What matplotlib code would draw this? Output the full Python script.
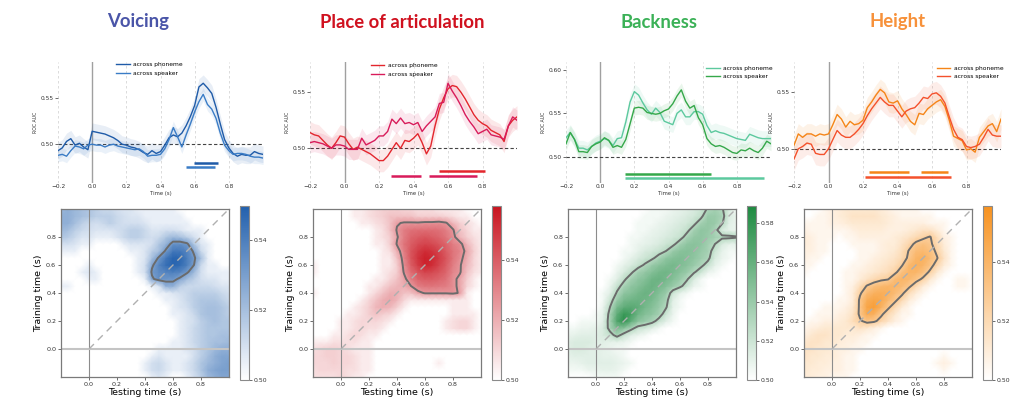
import numpy as np
import matplotlib
matplotlib.use('Agg')
import matplotlib.pyplot as plt
from matplotlib.colors import LinearSegmentedColormap

# ---------------- data ----------------
titles = ["Voicing", "Place of articulation", "Backness", "Height"]
title_colors = ["#4a55a8", "#d0111f", "#3bb157", "#f7913a"]

time = np.round(np.arange(49) * 0.025 - 0.2, 3)

voicing_phoneme = [0.493, 0.496, 0.503, 0.506, 0.499, 0.501, 0.497, 0.494, 0.514, 0.513,
                   0.512, 0.511, 0.509, 0.507, 0.504, 0.500, 0.499, 0.497, 0.496, 0.494,
                   0.491, 0.489, 0.493, 0.490, 0.492, 0.499, 0.507, 0.510, 0.508, 0.512,
                   0.520, 0.530, 0.542, 0.562, 0.566, 0.561, 0.555, 0.540, 0.522, 0.505,
                   0.496, 0.490, 0.487, 0.489, 0.488, 0.488, 0.492, 0.490, 0.489]
voicing_speaker = [0.488, 0.489, 0.487, 0.493, 0.498, 0.497, 0.495, 0.499, 0.500, 0.499,
                   0.499, 0.497, 0.499, 0.500, 0.498, 0.497, 0.496, 0.495, 0.494, 0.495,
                   0.492, 0.487, 0.488, 0.488, 0.489, 0.495, 0.505, 0.518, 0.508, 0.497,
                   0.510, 0.522, 0.535, 0.546, 0.554, 0.543, 0.538, 0.528, 0.512, 0.499,
                   0.493, 0.489, 0.490, 0.490, 0.489, 0.487, 0.486, 0.486, 0.485]
place_phoneme = [0.514, 0.512, 0.511, 0.507, 0.503, 0.500, 0.505, 0.511, 0.510, 0.504,
                 0.499, 0.501, 0.499, 0.497, 0.495, 0.492, 0.489, 0.489, 0.493, 0.499,
                 0.505, 0.500, 0.507, 0.506, 0.509, 0.513, 0.505, 0.495, 0.502, 0.520,
                 0.535, 0.545, 0.553, 0.556, 0.555, 0.550, 0.544, 0.537, 0.530, 0.525,
                 0.522, 0.520, 0.516, 0.514, 0.512, 0.506, 0.520, 0.525, 0.528]
place_speaker = [0.505, 0.506, 0.505, 0.504, 0.502, 0.500, 0.503, 0.503, 0.502, 0.499,
                 0.499, 0.499, 0.509, 0.503, 0.505, 0.507, 0.511, 0.511, 0.515, 0.526,
                 0.522, 0.527, 0.522, 0.523, 0.521, 0.523, 0.515, 0.520, 0.524, 0.528,
                 0.540, 0.541, 0.558, 0.551, 0.545, 0.538, 0.530, 0.524, 0.519, 0.513,
                 0.515, 0.517, 0.512, 0.511, 0.510, 0.508, 0.520, 0.528, 0.525]
backness_phoneme = [0.522, 0.528, 0.520, 0.510, 0.510, 0.508, 0.512, 0.516, 0.518, 0.521,
                    0.519, 0.513, 0.521, 0.522, 0.540, 0.563, 0.575, 0.571, 0.562, 0.554,
                    0.549, 0.556, 0.551, 0.541, 0.539, 0.537, 0.550, 0.554, 0.546, 0.546,
                    0.552, 0.552, 0.549, 0.536, 0.528, 0.530, 0.528, 0.527, 0.525, 0.523,
                    0.521, 0.520, 0.519, 0.526, 0.524, 0.522, 0.521, 0.521, 0.521]
backness_speaker = [0.515, 0.528, 0.520, 0.506, 0.506, 0.505, 0.512, 0.515, 0.517, 0.522,
                    0.519, 0.511, 0.513, 0.511, 0.520, 0.538, 0.556, 0.557, 0.556, 0.551,
                    0.550, 0.549, 0.550, 0.553, 0.555, 0.561, 0.570, 0.577, 0.564, 0.556,
                    0.559, 0.545, 0.537, 0.521, 0.515, 0.512, 0.513, 0.511, 0.508, 0.505,
                    0.504, 0.508, 0.507, 0.510, 0.507, 0.505, 0.510, 0.518, 0.515]
height_phoneme = [0.503, 0.513, 0.510, 0.513, 0.513, 0.511, 0.513, 0.512, 0.513, 0.521,
                  0.530, 0.526, 0.519, 0.524, 0.521, 0.522, 0.525, 0.536, 0.541, 0.547,
                  0.552, 0.549, 0.541, 0.540, 0.542, 0.535, 0.530, 0.524, 0.521, 0.531,
                  0.530, 0.535, 0.538, 0.541, 0.543, 0.537, 0.525, 0.511, 0.509, 0.507,
                  0.499, 0.500, 0.497, 0.510, 0.515, 0.520, 0.522, 0.515, 0.526]
height_speaker = [0.491, 0.500, 0.502, 0.505, 0.504, 0.496, 0.495, 0.495, 0.500, 0.508,
                  0.516, 0.512, 0.510, 0.510, 0.513, 0.517, 0.522, 0.529, 0.535, 0.540,
                  0.545, 0.541, 0.538, 0.538, 0.533, 0.528, 0.533, 0.535, 0.536, 0.540,
                  0.545, 0.544, 0.548, 0.549, 0.546, 0.540, 0.528, 0.517, 0.510, 0.508,
                  0.502, 0.501, 0.502, 0.504, 0.510, 0.517, 0.512, 0.511, 0.511]

# half-width of the shaded confidence band
sem_phoneme = [0.009, 0.010, 0.009, 0.009]
sem_speaker = [0.007, 0.009, 0.008, 0.010]

# significant clusters: (y level, start, end)
clusters_phoneme = [[(0.4798, 0.594, 0.735)],
                    [(0.4800, 0.549, 0.812)],
                    [(0.4758, 0.148, 0.957)],
                    [(0.4797, 0.234, 0.467), (0.4797, 0.534, 0.690)]]
clusters_speaker = [[(0.4754, 0.551, 0.717)],
                    [(0.4754, 0.269, 0.444), (0.4754, 0.491, 0.771)],
                    [(0.4800, 0.148, 0.651)],
                    [(0.4750, 0.210, 0.708)]]

# generalization matrices: AUC above 0.5 in thousandths
# rows = training time (-0.2 .. 1.0 step 0.05), cols = testing time (same)
gen_times = np.round(np.arange(25) * 0.05 - 0.2, 3)
gen_voicing = [
    [0, 0, 0, 0, 0, 0, 0, 0, 0, 0, 0, 0, 0, 5, 8, 5, 0, 0, 5, 10, 15, 22, 25, 28, 28],
    [0, 0, 0, 0, 0, 0, 0, 0, 0, 0, 0, 0, 5, 10, 12, 8, 5, 5, 8, 12, 18, 25, 28, 30, 30],
    [0, 0, 0, 0, 0, 0, 0, 0, 0, 0, 0, 0, 5, 10, 12, 8, 5, 5, 8, 12, 18, 22, 25, 28, 30],
    [0, 0, 0, 0, 0, 0, 0, 0, 0, 0, 0, 0, 0, 5, 8, 5, 5, 5, 5, 10, 15, 20, 25, 28, 28],
    [0, 0, 0, 0, 0, 0, 0, 0, 0, 0, 0, 0, 0, 0, 5, 5, 5, 5, 8, 10, 15, 18, 22, 25, 25],
    [0, 0, 0, 0, 0, 0, 0, 0, 0, 0, 0, 0, 0, 0, 0, 0, 5, 5, 8, 12, 15, 18, 20, 20, 22],
    [0, 0, 0, 0, 0, 0, 0, 0, 0, 0, 0, 0, 0, 0, 0, 0, 0, 5, 8, 12, 15, 18, 18, 20, 20],
    [0, 0, 0, 0, 0, 0, 0, 0, 0, 0, 0, 0, 0, 0, 0, 0, 0, 5, 8, 12, 15, 18, 18, 18, 18],
    [0, 0, 0, 0, 0, 0, 0, 0, 0, 0, 0, 0, 0, 0, 0, 0, 0, 5, 8, 10, 15, 18, 20, 18, 18],
    [0, 0, 0, 0, 0, 0, 0, 0, 0, 0, 0, 0, 0, 0, 0, 0, 5, 5, 8, 12, 18, 20, 20, 18, 15],
    [0, 0, 0, 0, 0, 0, 0, 0, 0, 0, 0, 0, 0, 0, 0, 0, 5, 8, 10, 15, 18, 20, 20, 18, 15],
    [0, 0, 0, 0, 0, 0, 0, 0, 0, 0, 0, 0, 0, 0, 0, 5, 5, 8, 12, 15, 18, 18, 18, 15, 12],
    [0, 0, 0, 0, 0, 0, 0, 0, 0, 0, 0, 0, 0, 0, 5, 5, 8, 10, 12, 15, 15, 15, 15, 12, 10],
    [5, 5, 0, 0, 0, 0, 0, 0, 0, 0, 0, 0, 0, 5, 8, 25, 25, 15, 12, 12, 12, 12, 10, 8, 8],
    [0, 0, 0, 0, 5, 5, 0, 0, 0, 0, 0, 0, 5, 28, 35, 33, 33, 28, 20, 15, 10, 8, 8, 5, 5],
    [0, 0, 0, 5, 8, 5, 0, 0, 0, 0, 0, 5, 10, 32, 36, 38, 40, 38, 32, 22, 10, 5, 5, 5, 5],
    [0, 0, 0, 0, 5, 0, 0, 0, 0, 0, 0, 5, 10, 28, 38, 45, 48, 46, 40, 30, 12, 5, 5, 0, 0],
    [0, 0, 0, 0, 0, 0, 0, 0, 0, 0, 0, 5, 8, 20, 32, 42, 48, 47, 40, 32, 20, 5, 0, 0, 0],
    [5, 5, 5, 0, 0, 0, 0, 0, 0, 0, 5, 5, 8, 15, 20, 32, 42, 42, 38, 28, 12, 5, 0, 0, 0],
    [10, 10, 8, 5, 5, 0, 0, 0, 0, 5, 8, 8, 8, 10, 18, 24, 34, 35, 32, 18, 8, 5, 0, 0, 0],
    [18, 16, 12, 8, 8, 5, 5, 5, 8, 12, 15, 15, 12, 10, 12, 18, 22, 20, 15, 10, 5, 0, 0, 0, 0],
    [22, 20, 15, 12, 10, 8, 8, 8, 10, 12, 15, 15, 12, 8, 8, 10, 10, 8, 5, 5, 5, 0, 0, 0, 0],
    [25, 25, 20, 15, 12, 10, 12, 15, 12, 10, 10, 10, 8, 5, 5, 5, 5, 5, 5, 0, 0, 0, 0, 0, 0],
    [25, 25, 22, 20, 18, 15, 15, 15, 12, 10, 8, 8, 5, 5, 5, 5, 5, 5, 0, 0, 0, 0, 0, 0, 0],
    [22, 25, 22, 20, 18, 15, 12, 12, 10, 8, 8, 5, 5, 5, 5, 5, 5, 0, 0, 0, 0, 0, 0, 0, 0]]
gen_place = [
    [8, 8, 8, 8, 10, 8, 5, 5, 0, 0, 0, 0, 0, 0, 0, 0, 0, 0, 0, 0, 0, 0, 0, 0, 0],
    [8, 10, 10, 10, 10, 8, 8, 5, 5, 0, 0, 0, 0, 0, 0, 0, 0, 0, 0, 0, 0, 0, 0, 0, 0],
    [10, 10, 10, 12, 10, 10, 8, 5, 5, 0, 0, 0, 0, 0, 0, 0, 0, 0, 5, 0, 0, 0, 0, 0, 0],
    [10, 10, 12, 12, 10, 10, 8, 5, 5, 0, 0, 0, 0, 0, 0, 0, 0, 0, 0, 0, 0, 0, 0, 0, 0],
    [8, 10, 12, 12, 10, 8, 5, 5, 5, 0, 0, 0, 0, 0, 0, 0, 0, 0, 0, 0, 0, 0, 0, 0, 0],
    [5, 5, 5, 8, 8, 8, 8, 5, 5, 0, 0, 0, 0, 0, 0, 0, 0, 0, 0, 0, 0, 0, 0, 0, 0],
    [0, 0, 0, 5, 5, 8, 10, 8, 5, 5, 0, 0, 0, 0, 0, 0, 0, 0, 0, 0, 0, 0, 0, 0, 0],
    [0, 0, 0, 0, 5, 5, 8, 10, 8, 8, 5, 0, 0, 0, 0, 0, 0, 0, 0, 5, 8, 10, 10, 5, 0],
    [0, 0, 0, 0, 5, 5, 8, 10, 10, 10, 8, 5, 0, 0, 0, 0, 0, 0, 0, 5, 8, 10, 10, 5, 0],
    [0, 0, 0, 0, 0, 5, 5, 8, 12, 15, 12, 10, 5, 0, 0, 0, 0, 0, 0, 0, 5, 5, 5, 5, 0],
    [0, 0, 0, 0, 0, 0, 5, 8, 12, 18, 20, 18, 12, 5, 0, 0, 0, 0, 0, 0, 5, 5, 5, 0, 0],
    [0, 0, 0, 0, 0, 0, 0, 5, 10, 15, 20, 22, 18, 10, 5, 5, 5, 5, 5, 5, 5, 5, 5, 0, 0],
    [5, 0, 0, 0, 0, 0, 0, 0, 5, 10, 15, 20, 20, 15, 15, 22, 26, 26, 26, 26, 27, 24, 5, 0, 0],
    [0, 0, 0, 0, 0, 0, 0, 0, 5, 5, 10, 15, 18, 20, 25, 32, 34, 34, 33, 32, 28, 22, 10, 5, 0],
    [0, 0, 0, 0, 0, 0, 0, 0, 0, 5, 5, 10, 15, 22, 32, 38, 40, 40, 38, 35, 28, 22, 12, 5, 0],
    [5, 0, 0, 0, 0, 0, 0, 0, 0, 0, 5, 8, 12, 26, 36, 42, 46, 45, 42, 38, 30, 26, 15, 8, 5],
    [5, 0, 0, 0, 0, 0, 0, 0, 0, 0, 5, 5, 12, 28, 40, 48, 54, 52, 46, 40, 32, 26, 18, 10, 5],
    [0, 0, 0, 0, 0, 0, 0, 0, 0, 0, 5, 5, 15, 30, 42, 50, 55, 53, 48, 42, 34, 28, 20, 10, 5],
    [0, 0, 0, 0, 0, 0, 0, 0, 0, 0, 5, 8, 20, 32, 42, 48, 52, 50, 46, 40, 34, 30, 22, 12, 5],
    [0, 0, 0, 0, 0, 0, 0, 0, 0, 5, 5, 12, 26, 34, 40, 44, 46, 45, 42, 38, 32, 28, 18, 10, 5],
    [0, 0, 0, 0, 0, 0, 0, 0, 0, 5, 8, 12, 24, 32, 38, 40, 42, 40, 38, 34, 28, 18, 12, 8, 5],
    [0, 0, 0, 0, 0, 0, 0, 0, 0, 5, 8, 15, 26, 32, 35, 36, 36, 36, 35, 32, 26, 15, 10, 5, 5],
    [0, 0, 0, 0, 0, 0, 0, 5, 5, 8, 10, 15, 24, 26, 26, 26, 27, 27, 28, 26, 18, 12, 8, 5, 0],
    [0, 0, 0, 0, 0, 0, 5, 5, 8, 10, 12, 15, 15, 15, 15, 12, 12, 12, 12, 10, 8, 5, 5, 0, 0],
    [0, 0, 0, 0, 0, 0, 5, 5, 8, 10, 12, 12, 12, 10, 10, 8, 8, 8, 5, 5, 5, 5, 0, 0, 0]]
gen_backness = [
    [0, 0, 0, 0, 5, 5, 5, 5, 0, 0, 0, 0, 0, 0, 0, 0, 0, 0, 0, 0, 0, 0, 0, 0, 0],
    [5, 5, 5, 8, 8, 10, 10, 8, 5, 0, 0, 0, 0, 0, 0, 0, 0, 0, 0, 0, 0, 0, 0, 0, 0],
    [8, 8, 10, 12, 12, 12, 12, 10, 8, 5, 0, 0, 0, 0, 0, 0, 0, 0, 0, 0, 0, 0, 0, 0, 0],
    [10, 12, 12, 12, 12, 10, 10, 8, 5, 0, 0, 0, 0, 0, 0, 0, 0, 0, 0, 0, 0, 0, 0, 0, 0],
    [12, 15, 15, 12, 12, 10, 8, 5, 5, 0, 0, 0, 0, 0, 0, 0, 0, 0, 0, 0, 0, 0, 0, 0, 0],
    [12, 15, 15, 15, 12, 12, 10, 10, 8, 5, 0, 0, 0, 0, 0, 0, 0, 0, 0, 0, 0, 0, 0, 0, 0],
    [8, 10, 12, 12, 12, 15, 22, 34, 22, 12, 8, 5, 0, 0, 0, 0, 0, 0, 0, 0, 0, 0, 0, 0, 0],
    [5, 5, 8, 8, 10, 15, 34, 52, 46, 34, 22, 18, 12, 5, 0, 0, 0, 0, 0, 0, 0, 0, 0, 0, 0],
    [0, 0, 5, 5, 5, 12, 36, 68, 82, 62, 46, 40, 34, 22, 12, 5, 0, 0, 0, 0, 0, 0, 0, 0, 0],
    [0, 0, 0, 0, 5, 10, 34, 62, 78, 72, 56, 48, 44, 36, 20, 8, 0, 0, 0, 0, 0, 0, 0, 0, 0],
    [0, 0, 0, 0, 0, 8, 28, 52, 62, 65, 62, 54, 48, 40, 30, 10, 5, 0, 0, 0, 0, 0, 0, 0, 0],
    [0, 0, 0, 0, 0, 5, 20, 40, 52, 56, 58, 56, 52, 44, 34, 12, 5, 0, 0, 0, 0, 0, 0, 0, 0],
    [0, 0, 0, 0, 0, 5, 12, 30, 44, 48, 54, 58, 56, 48, 40, 20, 10, 5, 0, 0, 0, 0, 0, 0, 0],
    [0, 0, 0, 0, 0, 0, 8, 22, 34, 44, 48, 54, 58, 54, 48, 40, 32, 20, 8, 5, 0, 0, 0, 0, 0],
    [0, 0, 0, 0, 0, 0, 5, 12, 25, 36, 44, 48, 56, 58, 54, 48, 40, 30, 15, 5, 0, 0, 0, 0, 0],
    [0, 0, 0, 0, 0, 0, 0, 8, 15, 25, 36, 42, 48, 54, 56, 52, 46, 40, 30, 20, 8, 5, 0, 0, 0],
    [0, 0, 0, 0, 0, 0, 0, 5, 10, 15, 22, 30, 40, 46, 50, 54, 50, 46, 40, 32, 22, 10, 5, 0, 0],
    [0, 0, 0, 0, 0, 0, 0, 0, 5, 10, 15, 20, 25, 34, 44, 48, 50, 48, 44, 38, 32, 15, 8, 5, 0],
    [0, 0, 0, 0, 0, 0, 0, 0, 5, 5, 10, 15, 18, 22, 28, 40, 46, 48, 46, 40, 35, 20, 10, 5, 5],
    [0, 0, 0, 0, 0, 0, 0, 0, 0, 5, 8, 10, 12, 15, 20, 24, 36, 44, 46, 44, 36, 28, 15, 10, 10],
    [0, 0, 0, 0, 0, 0, 0, 0, 0, 5, 5, 8, 10, 12, 15, 18, 22, 34, 42, 44, 40, 36, 32, 32, 30],
    [0, 0, 0, 0, 0, 0, 0, 0, 0, 0, 5, 5, 8, 10, 12, 15, 18, 24, 36, 44, 42, 34, 15, 10, 8],
    [0, 0, 0, 0, 0, 0, 0, 0, 0, 0, 5, 5, 5, 8, 10, 12, 15, 18, 24, 36, 42, 40, 30, 12, 8],
    [0, 0, 0, 0, 0, 0, 0, 0, 0, 0, 0, 5, 5, 5, 8, 10, 12, 15, 18, 24, 40, 40, 34, 15, 8],
    [0, 0, 0, 0, 0, 0, 0, 0, 0, 0, 0, 0, 5, 5, 5, 8, 10, 12, 15, 20, 30, 36, 30, 15, 5]]
gen_height = [
    [10, 10, 8, 8, 5, 5, 5, 0, 0, 0, 0, 0, 0, 0, 0, 0, 0, 0, 0, 0, 0, 0, 0, 0, 0],
    [12, 10, 10, 8, 8, 8, 5, 5, 0, 0, 0, 0, 0, 0, 0, 0, 0, 0, 0, 0, 5, 0, 0, 0, 0],
    [12, 12, 10, 10, 8, 8, 5, 5, 0, 0, 0, 0, 0, 0, 0, 0, 0, 0, 0, 5, 8, 5, 0, 0, 0],
    [15, 12, 12, 10, 10, 8, 5, 5, 0, 0, 0, 0, 0, 0, 0, 0, 0, 0, 0, 0, 5, 0, 0, 0, 0],
    [15, 15, 12, 12, 10, 8, 8, 5, 5, 0, 0, 0, 0, 0, 0, 0, 0, 0, 0, 0, 0, 0, 0, 0, 0],
    [12, 15, 15, 12, 12, 10, 8, 8, 5, 5, 0, 0, 0, 0, 0, 0, 0, 0, 0, 0, 0, 0, 0, 0, 0],
    [8, 12, 15, 15, 12, 12, 10, 10, 8, 5, 5, 0, 0, 0, 0, 0, 0, 0, 0, 0, 0, 0, 0, 0, 0],
    [5, 8, 10, 12, 12, 12, 12, 12, 15, 12, 8, 5, 0, 0, 0, 0, 0, 0, 0, 0, 0, 0, 0, 0, 0],
    [0, 5, 5, 8, 8, 10, 12, 18, 25, 32, 30, 22, 15, 8, 5, 0, 0, 0, 0, 0, 0, 0, 0, 0, 0],
    [0, 0, 5, 5, 5, 8, 10, 15, 30, 45, 42, 30, 20, 12, 5, 5, 0, 0, 0, 0, 0, 0, 0, 0, 0],
    [0, 0, 0, 5, 5, 5, 8, 12, 30, 48, 52, 42, 30, 20, 10, 5, 0, 0, 0, 0, 0, 0, 0, 0, 0],
    [0, 0, 0, 0, 0, 5, 5, 10, 30, 44, 48, 46, 38, 30, 20, 10, 5, 0, 0, 0, 0, 0, 0, 0, 0],
    [0, 0, 0, 0, 0, 0, 5, 10, 25, 36, 42, 44, 42, 36, 30, 18, 10, 5, 0, 0, 0, 0, 0, 0, 0],
    [0, 0, 0, 0, 0, 0, 5, 8, 18, 28, 34, 38, 40, 40, 36, 30, 20, 10, 5, 0, 0, 0, 5, 5, 0],
    [0, 0, 0, 0, 0, 0, 5, 5, 10, 15, 20, 24, 26, 36, 40, 38, 32, 25, 12, 5, 0, 0, 5, 5, 0],
    [5, 0, 0, 0, 0, 0, 5, 5, 8, 10, 12, 15, 18, 24, 34, 40, 40, 34, 25, 12, 5, 0, 0, 0, 0],
    [5, 5, 0, 0, 0, 0, 0, 5, 5, 8, 10, 12, 15, 18, 26, 38, 42, 40, 32, 22, 10, 5, 0, 0, 0],
    [8, 5, 5, 0, 0, 0, 0, 0, 5, 5, 8, 10, 12, 15, 20, 30, 40, 42, 36, 28, 15, 5, 0, 0, 0],
    [8, 8, 5, 5, 0, 0, 0, 0, 5, 5, 5, 8, 10, 12, 18, 28, 36, 38, 34, 24, 12, 5, 0, 0, 0],
    [10, 8, 5, 5, 0, 0, 0, 5, 5, 5, 5, 8, 10, 10, 15, 22, 30, 34, 30, 20, 10, 5, 0, 0, 0],
    [10, 8, 5, 5, 5, 0, 5, 5, 8, 8, 8, 8, 8, 10, 12, 15, 20, 24, 28, 18, 8, 5, 0, 0, 0],
    [8, 5, 5, 5, 5, 5, 5, 8, 10, 10, 10, 10, 8, 8, 8, 10, 12, 15, 15, 10, 5, 0, 0, 0, 0],
    [5, 5, 5, 5, 8, 8, 10, 12, 12, 12, 12, 12, 10, 8, 8, 8, 8, 8, 5, 5, 5, 0, 0, 0, 0],
    [0, 0, 5, 5, 8, 10, 12, 15, 15, 15, 15, 12, 10, 8, 5, 5, 5, 5, 5, 0, 0, 0, 0, 0, 0],
    [0, 0, 0, 5, 8, 10, 12, 12, 12, 12, 12, 10, 8, 5, 5, 5, 5, 0, 0, 0, 0, 0, 0, 0, 0]]

# ---------------- styling ----------------
phoneme_colors = ["#1f5ba8", "#e3262d", "#5cc99e", "#f58518"]
speaker_colors = ["#3a7cc6", "#d81b5a", "#35a84a", "#f4512c"]
cmap_ends = ["#2260ad", "#c9141f", "#1d8a40", "#f7921f"]
ylims = [(0.458, 0.589), (0.469, 0.577), (0.470, 0.609), (0.470, 0.576)]
yticks_top = [[0.50, 0.55], [0.50, 0.55], [0.50, 0.55, 0.60], [0.50, 0.55]]
vmaxs = [0.5497, 0.558, 0.5887, 0.559]
cb_ticks = [[0.50, 0.52, 0.54], [0.50, 0.52, 0.54],
            [0.50, 0.52, 0.54, 0.56, 0.58], [0.50, 0.52, 0.54]]
thresholds = [0.530, 0.525, 0.528, 0.527]
legend_anchor = [(0.265, 1.03), (0.275, 1.02), (0.665, 1.0), (0.672, 1.0)]

W, H = 1023, 398
top_px = [(58, 263), (310, 517), (566, 771), (794, 1001)]
heat_px = [61, 313, 568, 804]
cb_px = [240, 492, 747, 983]
title_x = [138, 402, 659, 898]

phon_series = [voicing_phoneme, place_phoneme, backness_phoneme, height_phoneme]
spk_series = [voicing_speaker, place_speaker, backness_speaker, height_speaker]
gens = [gen_voicing, gen_place, gen_backness, gen_height]

fig = plt.figure(figsize=(W / 100, H / 100), dpi=100)

for i in range(4):
    # title
    fig.text(title_x[i] / W, 1 - 22 / H, titles[i], color=title_colors[i],
             fontsize=13.3, fontweight='bold', family=['Lato', 'DejaVu Sans'],
             ha='center', va='center')

    # ---- time-resolved decoding ----
    l, r = top_px[i]
    ax = fig.add_axes([l / W, 1 - 183 / H, (r - l) / W, 121 / H])
    for s in ax.spines.values():
        s.set_visible(False)
    ax.set_xlim(-0.2, 1.0)
    ax.set_ylim(*ylims[i])
    ax.set_xticks([-0.2, 0.0, 0.2, 0.4, 0.6, 0.8])
    ax.set_yticks(yticks_top[i])
    ax.set_yticklabels(["%.2f" % v for v in yticks_top[i]])
    ax.xaxis.grid(True, ls=(0, (3, 3)), color='#d6d6d6', lw=0.6)
    ax.set_axisbelow(True)
    ax.axvline(0, color='#a0a0a0', lw=1.0, zorder=1)
    ax.axhline(0.5, color='#444444', ls=(0, (3, 2)), lw=0.8, zorder=1)
    ph = np.array(phon_series[i])
    sp = np.array(spk_series[i])
    ax.fill_between(time, ph - sem_phoneme[i], ph + sem_phoneme[i],
                    color=phoneme_colors[i], alpha=0.10, lw=0)
    ax.fill_between(time, sp - sem_speaker[i], sp + sem_speaker[i],
                    color=speaker_colors[i], alpha=0.10, lw=0)
    ax.plot(time, ph, color=phoneme_colors[i], lw=1.0, label='across phoneme', zorder=3)
    ax.plot(time, sp, color=speaker_colors[i], lw=1.0, label='across speaker', zorder=3)
    for (yv, a, b) in clusters_phoneme[i]:
        ax.hlines(yv, a, b, color=phoneme_colors[i], lw=1.8)
    for (yv, a, b) in clusters_speaker[i]:
        ax.hlines(yv, a, b, color=speaker_colors[i], lw=1.8)
    ax.tick_params(axis='both', labelsize=4.2, pad=1, colors='#333333')
    ax.tick_params(axis='x', length=0)
    ax.tick_params(axis='y', length=2, width=0.5)
    ax.set_xlabel('Time (s)', fontsize=3.8, labelpad=1, color='#333333')
    ax.set_ylabel('ROC AUC', fontsize=3.3, labelpad=2, color='#333333')
    ax.legend(loc='upper left', bbox_to_anchor=legend_anchor[i], frameon=False,
              fontsize=4.3, handlelength=2.3, handletextpad=0.6, labelspacing=0.55,
              borderpad=0.1)

    # ---- temporal generalization ----
    hl = heat_px[i]
    axh = fig.add_axes([hl / W, 1 - 377 / H, 168 / W, 168 / H])
    cmap = LinearSegmentedColormap.from_list('c%d' % i, ['#ffffff', cmap_ends[i]])
    Z = 0.5 + np.array(gens[i]) / 1000.0
    m = axh.pcolormesh(gen_times, gen_times, Z, shading='gouraud', cmap=cmap,
                       vmin=0.5, vmax=vmaxs[i], rasterized=True)
    axh.contour(gen_times, gen_times, Z, levels=[thresholds[i]], colors='#6b6b6b',
                linewidths=1.4)
    axh.axvline(0, color='#8c8c8c', lw=0.8)
    axh.axhline(0, color='#c4c4c4', lw=1.5)
    axh.plot([0, 1], [0, 1], ls=(0, (5, 4)), color='#b0b0b0', lw=1.0)
    axh.set_xlim(-0.2, 1.0)
    axh.set_ylim(-0.2, 1.0)
    axh.set_xticks([0.0, 0.2, 0.4, 0.6, 0.8])
    axh.set_yticks([0.0, 0.2, 0.4, 0.6, 0.8])
    axh.tick_params(labelsize=4.6, length=2, width=0.5, pad=1.5, colors='#333333')
    for s in axh.spines.values():
        s.set_color('#7a7a7a')
        s.set_linewidth(0.9)
    axh.set_xlabel('Testing time (s)', fontsize=6.8, labelpad=1)
    axh.set_ylabel('Training time (s)', fontsize=6.8, labelpad=2)

    cax = fig.add_axes([cb_px[i] / W, 1 - 380 / H, 9 / W, 174 / H])
    cb = fig.colorbar(m, cax=cax)
    cb.set_ticks(cb_ticks[i])
    cb.ax.set_yticklabels(["%.2f" % v for v in cb_ticks[i]])
    cb.ax.tick_params(labelsize=4.4, length=2, width=0.5, pad=1.5, colors='#333333')
    cb.outline.set_edgecolor('#8a8a8a')
    cb.outline.set_linewidth(0.8)

fig.savefig('out.png', dpi=100)
